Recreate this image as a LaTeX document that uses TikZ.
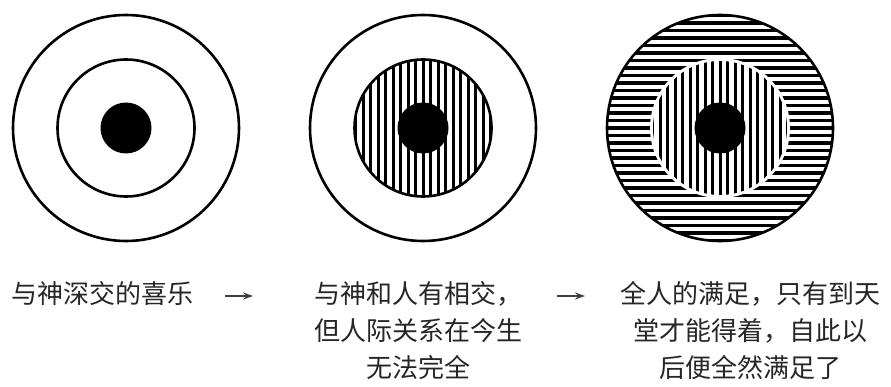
\documentclass[tikz,border=0pt]{standalone}
\usepackage{fontspec}
\newfontfamily\cjk{Noto Sans CJK SC}
\usetikzlibrary{arrows.meta,positioning}
\tikzset{%
	ring/.style    = {draw, circle, line width=2.6pt, inner sep=0pt, minimum size=226pt},
	inring/.style  = {draw, circle, line width=2.6pt, inner sep=0pt, minimum size=137pt},
	core/.style    = {fill, circle, inner sep=0pt, minimum size=51pt},
	vhatch/.style  = {line width=3pt},
	hhatch/.style  = {line width=3.6pt},
	caption/.style = {align=center, font=\cjk\fontsize{26}{37}\selectfont, inner sep=0pt, text=black!85},
	arrow/.style   = {line width=1.2pt, black!75, -{Stealth[length=10pt,width=7pt]}},
}

\begin{document}
\begin{tikzpicture}[x=1pt, y=1pt, node distance=297pt]
	\useasboundingbox (0,0) rectangle (891,386);
	% the three targets
	\node[ring] (o1) at (126,258) {};
	\node[ring, right of=o1] (o2) {};
	\node[ring, right of=o2] (o3) {};
	\node[inring] (i1) at (o1) {};
	\node[inring] (i2) at (o2) {};
	
	\begin{scope}
		\clip (o3.center) circle (113);
		\foreach \k in {-15,...,15}
			\draw[hhatch] ([yshift=\k*7.5pt]o3.west) -- ([yshift=\k*7.5pt]o3.east);
	\end{scope}
	\node[circle, fill=white, inner sep=0pt, minimum size=140pt] (i3) at (o3) {};
	\begin{scope}
		\clip (o2.center) circle (68.5);
		\foreach \k in {-9,...,9}
			\draw[vhatch] ([xshift=\k*7.5pt]o2.north) -- ([xshift=\k*7.5pt]o2.south);
	\end{scope}
	\begin{scope}
		\clip (o3.center) circle (67);
		\foreach \k in {-9,...,9}
			\draw[vhatch] ([xshift=\k*7.5pt]o3.north) -- ([xshift=\k*7.5pt]o3.south);
	\end{scope}
	\node[core] (d1) at (o1) {};
	\node[core] (d2) at (o2) {};
	\node[core] (d3) at (o3) {};
	
	% captions
	\node[caption, anchor=north] (t1) at (102,105) {与神深交的喜乐};
	\node[caption, anchor=north] (t2) at (418,105) {与神和人有相交，\\但人际关系在今生\\无法完全};
	\node[caption, anchor=north] (t3) at (750,105) {全人的满足，只有到天\\堂才能得着，自此以\\后便全然满足了};
	\coordinate (a1s) at (225,90);
	\coordinate (a1e) at (253,90);
	\coordinate (a2s) at (557,90);
	\coordinate (a2e) at (585,90);
	
	\draw[arrow] (a1s) -- (a1e);
	\draw[arrow] (a2s) -- (a2e);
\end{tikzpicture}
\end{document}
